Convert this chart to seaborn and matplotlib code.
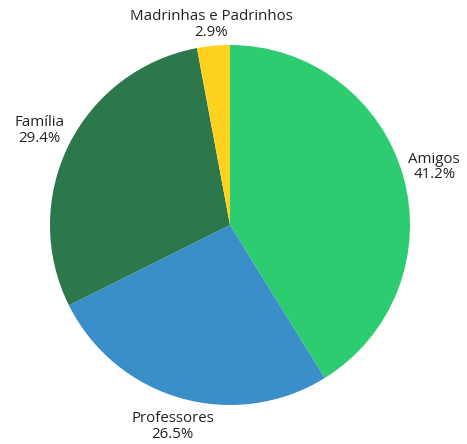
import numpy as np
import seaborn as sns
import matplotlib.pyplot as plt

sns.set_theme(style="white")
plt.rcParams['font.family'] = ['Open Sans', 'DejaVu Sans']

# dados: contagem de respostas
categorias = ['Amigos', 'Professores', 'Família', 'Madrinhas e Padrinhos']
contagens = [14, 9, 10, 1]
cores = ['#2ecc71', '#3a8fc8', '#2c774c', '#ffd21f']

total = sum(contagens)
rotulos = [f'{c}\n{n / total * 100:.1f}%' for c, n in zip(categorias, contagens)]

fig = plt.figure(figsize=(4.67, 4.44), dpi=100)
ax = fig.add_axes([50 / 467, 39 / 444, 360 / 467, 360 / 444])
wedges, texts = ax.pie(contagens, labels=rotulos, colors=cores, startangle=90,
                       counterclock=False, labeldistance=1.18, radius=1,
                       wedgeprops=dict(linewidth=0),
                       textprops=dict(fontsize=10.8, color='#222222',
                                      linespacing=1.05))
for t in texts:
    t.set_ha('center')
    t.set_va('center')
    t.set_multialignment('center')
# o rótulo pequeno do topo fica mais perto
x, y = texts[3].get_position()
texts[3].set_position((x * 1.12 / 1.18, y * 1.12 / 1.18))
x, y = texts[1].get_position()
texts[1].set_position((x * 1.165 / 1.18, y * 1.165 / 1.18))
ax.set_xlim(-1, 1)
ax.set_ylim(-1, 1)
ax.set_aspect('equal')

fig.savefig('out.png', dpi=100, facecolor='white')
